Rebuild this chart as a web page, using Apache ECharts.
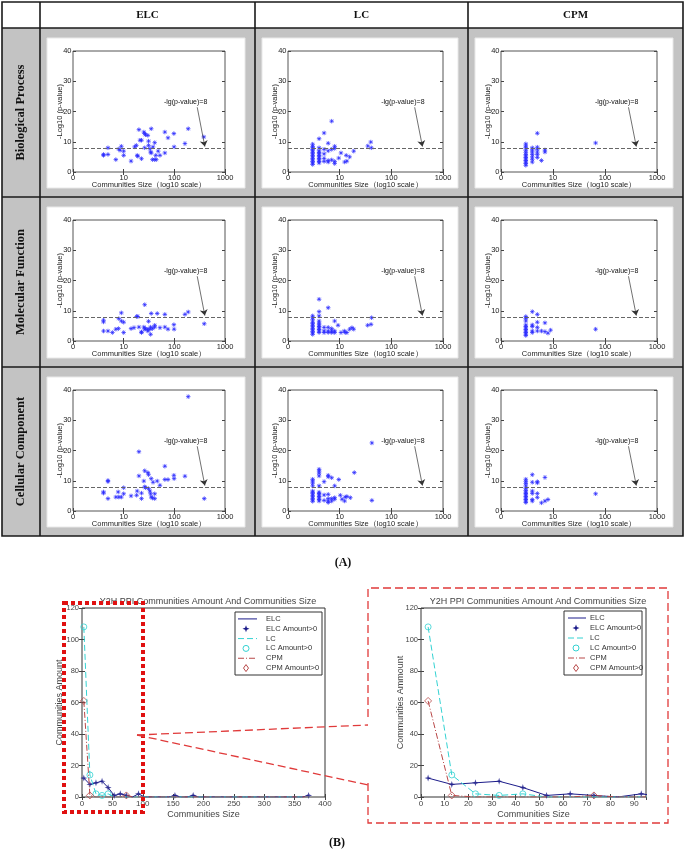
<!DOCTYPE html>
<html><head><meta charset="utf-8">
<script src="https://cdn.jsdelivr.net/npm/echarts@6/dist/echarts.min.js"></script>
<style>html,body{margin:0;padding:0;background:#fff}#c{width:686px;height:854px}</style>
</head><body><div id="c"></div><script>
// ---------- text ----------
const colHeaders = ['ELC', 'LC', 'CPM'];
const rowHeaders = ['Biological Process', 'Molecular Function', 'Cellular Component'];
const xTickLabels = {1: '0', 10: '10', 100: '100', 1000: '1000'};
const scatterXName = 'Communities Size（log10 scale）';
const scatterYName = '-Log10 (p-value)';
const threshold = 8;
const annotText = '-lg(p-value)=8';
const annotTextAt = [167, 23.2];
const annotArrowFrom = [283, 21.4];
const annotArrowTo = [400, 8.4];

// ---------- scatter panels: [community size, -log10(p)] ----------
const elcBP = [[4,5.8],[4,5.5],[4.9,8.0],[4.9,5.8],[7,4.1],[8,7.6],[8.5,7.2],[9,8.5],[10,6.9],[10,5.5],[14,3.6],[16.5,8.3],[17.8,8.8],[18.5,5.5],[19,5.2],[20,14],[21,10.5],[22.5,10.5],[22.5,4.4],[25,13.2],[26,12.7],[27,12.3],[26,8],[30,12.1],[31,10.2],[31,8.8],[33,7.7],[34,6.6],[35,6.3],[35,14.3],[37,4.1],[41,4.1],[44,4.1],[38,8.3],[41,9.7],[48,6.9],[43,5.5],[52,5.5],[65,13.2],[65,6.3],[75,11.3],[98,12.7],[99,8.3],[162,9.4],[188,14.3],[382,11.6]];
const lcBP = [[3,2.5],[3,3],[3,3.5],[3,4],[3,4.5],[3,5],[3,5.5],[3,6],[3,6.5],[3,7],[3,7.5],[3,8],[3,8.5],[3,9.2],[4,3],[4,3.5],[4,4],[4,4.5],[4,5],[4,5.5],[4,6],[4,6.5],[4,7],[4,8],[4,11],[5,3.5],[5,4.5],[5,6],[5,7.5],[5,12.9],[6,3.3],[6,3.8],[6,7],[6,9.5],[7,4],[7,7.5],[7,16.8],[8,2.8],[8,3.5],[8,7.8],[8,8.5],[9.6,4.6],[10.6,6.3],[12.5,3.3],[13.4,5.5],[13.8,3.6],[15.6,5],[18.7,6.9],[35,8.6],[40,9.9],[41,8]];
const cpmBP = [[3,2.2],[3,2.8],[3,3.3],[3,3.8],[3,4.3],[3,4.8],[3,5.3],[3,5.8],[3,6.5],[3,7.2],[3,8],[3,8.6],[3,9.3],[4,3.3],[4,4.2],[4,5],[4,5.8],[4,6.6],[4,7.3],[4,8],[5,4.8],[5,5.8],[5,6.6],[5,7.5],[5,8.2],[5,12.8],[6,3.8],[7,6.6],[7,7.3],[66,9.6]];
const elcMF = [[4,3.3],[4,6.3],[4,6.9],[4.9,3.3],[6,2.8],[7,3.9],[7.9,4.1],[8,7.4],[9,9.3],[9,6.6],[10,6.2],[10,2.8],[14,4.1],[16,4.4],[18,8.1],[19,8.1],[20,4.6],[22.5,3.0],[22.5,2.8],[25,4.6],[26,12],[26,3.9],[27,4.1],[30,3.3],[30,3.9],[31,6.5],[33,3.9],[34,2.2],[34,4.6],[35,9.1],[37,4.1],[41,4.6],[41,5.2],[46,9.1],[52,4.4],[65,4.6],[65,8.8],[75,3.9],[98,5.4],[99,3.9],[162,8.8],[188,9.6],[390,5.7]];
const lcMF = [[3,2.2],[3,2.7],[3,3.2],[3,3.7],[3,4.2],[3,4.7],[3,5.2],[3,5.7],[3,6.2],[3,7],[3,7.7],[3,8.3],[4,2.8],[4,3.3],[4,3.8],[4,4.3],[4,4.8],[4,5.3],[4,5.9],[4,6.6],[4,8.3],[4,9.7],[4,13.8],[5,2.8],[5,3.3],[5,4.5],[6,2.8],[6,3.3],[6,4.5],[6,11],[7,2.8],[7,3.3],[7,4.1],[8,2.8],[8,3.3],[8,6.6],[9.3,5.2],[10.6,2.8],[12.3,3.3],[12.8,2.8],[13.8,2.8],[15.6,3.9],[17.3,4.4],[18.7,3.9],[34.8,5.2],[40.5,5.5],[41.5,7.7]];
const cpmMF = [[3,1.8],[3,2.3],[3,2.8],[3,3.3],[3,3.8],[3,4.3],[3,4.8],[3,5.3],[3,6.6],[3,7.4],[3,8.1],[4,2.8],[4,3.3],[4,4.8],[4,5.3],[4,9.7],[5,3.3],[5,4.5],[5,6.2],[5,8.8],[6,3.3],[7,6],[7,3.1],[8,2.6],[9,3.6],[66,3.9]];
const elcCC = [[4,6.3],[4,5.9],[4.9,10.1],[4.9,9.7],[4.9,4.1],[7,4.6],[7.8,6.3],[8,4.6],[9,4.6],[10,7.7],[10,5.7],[14,5.0],[18,5.2],[18.5,6.6],[20,19.6],[20,11.6],[22.5,4.1],[22.5,5.9],[25,9.9],[26,13.3],[26,8],[27,7.7],[30,12.7],[31,12],[31,7.4],[33,6.6],[34,5.7],[35,4.6],[35,10.7],[37,4.3],[38,9.5],[41,5.7],[41,4.1],[46,9.9],[52,8.5],[65,14.8],[65,10.4],[75,10.4],[98,11.8],[99,10.7],[162,11.5],[188,37.8],[390,4.1]];
const lcCC = [[3,3.2],[3,3.7],[3,4.2],[3,4.7],[3,5.2],[3,5.7],[3,6.2],[3,6.6],[3,8.3],[3,9.2],[3,9.9],[3,10.5],[4,3.3],[4,3.8],[4,4.3],[4,4.8],[4,5.3],[4,5.8],[4,6.2],[4,8.3],[4,11.6],[4,12.5],[4,13.2],[4,13.8],[5,3.5],[5,5.3],[5,9.7],[6,2.8],[6,3.3],[6,4.1],[6,5.5],[6,11.3],[6,11.8],[7,3.3],[7,4.1],[7,11],[8,3.9],[8,4.4],[8,8.3],[9.6,10.4],[10.3,5.2],[11.1,3.9],[12.5,3.3],[12.8,4.6],[13.8,4.8],[16.1,4.4],[19.2,12.7],[42,22.5],[42,3.5]];
const cpmCC = [[3,2.8],[3,3.3],[3,3.8],[3,4.3],[3,4.8],[3,5.3],[3,5.8],[3,6.2],[3,6.8],[3,7.5],[3,8.3],[3,9.1],[3,9.8],[3,10.5],[4,3.3],[4,3.8],[4,5.8],[4,6.6],[4,9.5],[4,12],[5,4.5],[5,5.8],[5,9.3],[5,9.7],[6,2.7],[7,3.3],[7,11.1],[8,3.8],[66,5.7]];
const panels = [[elcBP, lcBP, cpmBP], [elcMF, lcMF, cpmMF], [elcCC, lcCC, cpmCC]];

// ---------- (B) community size histogram ----------
const bTitle = 'Y2H PPI Communities Amount And Communities Size';
const bXName = 'Communities Size';
const bYNameLeft = 'Communities Amount';
const bYNameRight = 'Communities Ammount';
const binCenters = [3,13,23,33,43,53,63,73,83,93,103,113,123,133,143,153,163,173,183,193,203,213,223,233,243,253,263,273,283,293,303,313,323,333,343,353,363,373];
const elcCounts = [12,8,9,10,6,1,2,1,0,2,0,0,0,0,0,1,0,0,1,0,0,0,0,0,0,0,0,0,0,0,0,0,0,0,0,0,0,1];
const lcCounts  = [108,14,2,1,2,0,0,0,0,0,0,0,0,0,0,0,0,0,0,0,0,0,0,0,0,0,0,0,0,0,0,0,0,0,0,0,0,0];
const cpmCounts = [61,1,0,0,0,0,0,1,0,0,0,0,0,0,0,0,0,0,0,0,0,0,0,0,0,0,0,0,0,0,0,0,0,0,0,0,0,0];
const legendNames = ['ELC', 'ELC Amount>0', 'LC', 'LC Amount>0', 'CPM', 'CPM Amount>0'];

// ---------- layout / style ----------
const FONT = 'Liberation Sans, Arial, sans-serif';
const SERIF = 'Liberation Serif, Times New Roman, serif';
const cellX = [40, 255, 468], cellR = [255, 468, 683];
const rowY = [28, 197, 367], rowB = [197, 367, 536];
const gridW = [152, 155, 156];
const C_ELC = '#1c1c8a', C_LC = '#33d2d2', C_CPM = '#b84848';
const DASH_LC = [6, 3], DASH_CPM = [6, 2, 1, 2];

const chart = echarts.init(document.getElementById('c'), null, {renderer: 'canvas'});
const grids = [], xAxes = [], yAxes = [], series = [], graphics = [];

const asterisk = 'path://M5,0L5,10M0,5L10,5M1.5,1.5L8.5,8.5M8.5,1.5L1.5,8.5';
const star4 = 'path://M5,0L6.2,3.8L10,5L6.2,6.2L5,10L3.8,6.2L0,5L3.8,3.8Z';

function boxAxes(gi, xOpt, yOpt) {
  const xi = xAxes.length, yi = yAxes.length;
  const tick = {inside: true, length: 3, lineStyle: {color: '#444'}};
  const common = {axisLine: {show: false}, axisTick: tick, splitLine: {show: false}, nameMoveOverlap: false};
  xAxes.push(Object.assign({gridIndex: gi, position: 'bottom'}, common, xOpt));
  xAxes.push(Object.assign({}, xOpt, common, {gridIndex: gi, position: 'top', name: '', axisLabel: {show: false}}));
  yAxes.push(Object.assign({gridIndex: gi, position: 'left'}, common, yOpt));
  yAxes.push(Object.assign({}, yOpt, common, {gridIndex: gi, position: 'right', name: '', axisLabel: {show: false}}));
  return [xi, yi];
}

// ---------- table background ----------
graphics.push({type: 'rect', z: -20, shape: {x: 2, y: 28, width: 681, height: 508}, style: {fill: '#c3c3c3'}});
for (let r = 0; r < 3; r++) for (let c = 0; c < 3; c++) {
  graphics.push({type: 'rect', z: -10, shape: {x: cellX[c] + 7, y: rowY[r] + 10, width: cellR[c] - cellX[c] - 17, height: rowB[r] - rowY[r] - 19},
    style: {fill: '#fff', stroke: '#e8e8e8', lineWidth: 1}});
}

// ---------- scatter panels ----------
for (let r = 0; r < 3; r++) for (let c = 0; c < 3; c++) {
  const gi = grids.length;
  grids.push({left: cellX[c] + 33, top: rowY[r] + 23, width: gridW[c], height: 121, show: true,
    borderColor: '#555', borderWidth: 1, backgroundColor: 'transparent'});
  const [xi, yi] = boxAxes(gi, {
    type: 'log', logBase: 10, min: 1, max: 1000,
    axisLabel: {fontSize: 7.5, color: '#222', fontFamily: FONT, margin: 1.5,
      formatter: v => xTickLabels[Math.round(v)] !== undefined ? xTickLabels[Math.round(v)] : ''},
    name: scatterXName, nameLocation: 'middle', nameGap: 9,
    nameTextStyle: {fontSize: 7.5, color: '#222', fontFamily: FONT}
  }, {
    type: 'value', min: 0, max: 40, interval: 10,
    axisLabel: {fontSize: 7.5, color: '#222', fontFamily: FONT, margin: 1.5},
    name: scatterYName, nameLocation: 'middle', nameGap: 9, nameRotate: 90,
    nameTextStyle: {fontSize: 7.5, color: '#222', fontFamily: FONT}
  });
  series.push({
    type: 'scatter', xAxisIndex: xi, yAxisIndex: yi, data: panels[r][c],
    symbol: asterisk, symbolSize: 4.5, silent: true,
    itemStyle: {color: '#2a2aff', borderColor: '#2a2aff', borderWidth: 0.9},
    markLine: {silent: true, animation: false, symbol: ['none', 'none'], label: {show: false},
      data: [
        {yAxis: threshold, lineStyle: {type: [4, 2], color: '#666', width: 1}},
        [{coord: annotArrowFrom, symbol: 'none', lineStyle: {type: 'solid', color: '#333', width: 0.7}},
         {coord: annotArrowTo, symbol: 'arrow', symbolSize: 6, lineStyle: {type: 'solid', color: '#333', width: 0.7}}]
      ]},
    markPoint: {silent: true, animation: false, symbol: 'rect', symbolSize: 1, itemStyle: {color: 'rgba(0,0,0,0)'},
      label: {show: true, position: 'inside', formatter: annotText, fontSize: 7, color: '#111', fontFamily: FONT},
      data: [{coord: annotTextAt}]}
  });
}

// ---------- (B) charts ----------
function histChart(gridOpt, xOpt, yName, yGap) {
  const gi = grids.length;
  grids.push(Object.assign({show: true, borderColor: '#333', borderWidth: 1, backgroundColor: 'transparent'}, gridOpt));
  const [xi, yi] = boxAxes(gi, Object.assign({
    type: 'value', axisLabel: {fontSize: 8, color: '#444', fontFamily: FONT, margin: 3},
    name: bXName, nameLocation: 'middle', nameGap: 13, nameTextStyle: {fontSize: 9, color: '#444', fontFamily: FONT}
  }, xOpt), {
    type: 'value', min: 0, max: 120, interval: 20,
    axisLabel: {fontSize: 7.5, color: '#444', fontFamily: FONT, margin: 3},
    name: yName, nameLocation: 'middle', nameGap: yGap, nameRotate: 90,
    nameTextStyle: {fontSize: 9, color: '#444', fontFamily: FONT}
  });
  const pairs = counts => binCenters.map((b, i) => [b, counts[i]]);
  const pos = counts => pairs(counts).filter(p => p[1] > 0);
  const base = {xAxisIndex: xi, yAxisIndex: yi, silent: true, animation: false};
  series.push(Object.assign({type: 'line', name: legendNames[0], data: pairs(elcCounts), symbol: 'none',
    lineStyle: {color: C_ELC, width: 1}, itemStyle: {color: C_ELC}}, base));
  series.push(Object.assign({type: 'scatter', name: legendNames[1], data: pos(elcCounts), symbol: star4, symbolSize: 7,
    itemStyle: {color: C_ELC}}, base));
  series.push(Object.assign({type: 'line', name: legendNames[2], data: pairs(lcCounts), symbol: 'none',
    lineStyle: {color: C_LC, width: 1, type: DASH_LC}, itemStyle: {color: C_LC}}, base));
  series.push(Object.assign({type: 'scatter', name: legendNames[3], data: pos(lcCounts), symbol: 'circle', symbolSize: 6,
    itemStyle: {color: 'rgba(255,255,255,0)', borderColor: C_LC, borderWidth: 1}}, base));
  series.push(Object.assign({type: 'line', name: legendNames[4], data: pairs(cpmCounts), symbol: 'none',
    lineStyle: {color: C_CPM, width: 1, type: DASH_CPM}, itemStyle: {color: C_CPM}}, base));
  series.push(Object.assign({type: 'scatter', name: legendNames[5], data: pos(cpmCounts), symbol: 'diamond', symbolSize: 7,
    itemStyle: {color: 'rgba(255,255,255,0)', borderColor: C_CPM, borderWidth: 1}}, base));
}
histChart({left: 82, top: 608, width: 243, height: 189}, {min: 0, max: 400, interval: 50}, bYNameLeft, 18);
histChart({left: 421, top: 608, width: 225, height: 189}, {min: 0, max: 95, interval: 10,
  axisLabel: {fontSize: 8, color: '#444', fontFamily: FONT, margin: 3, showMaxLabel: false}}, bYNameRight, 16);

// legend boxes (MATLAB style) drawn as graphics
function legendBox(L) {
  graphics.push({type: 'rect', z: 70, shape: {x: L.x, y: L.y, width: L.w, height: L.h},
    style: {fill: '#fff', stroke: '#333', lineWidth: 1}});
  const rowH = (L.h - 4) / 6;
  legendNames.forEach((name, i) => {
    const cy = L.y + 2 + rowH * (i + 0.5);
    const mx = L.x + L.mark;
    if (i === 0 || i === 2 || i === 4) {
      const col = [C_ELC, C_LC, C_CPM][i / 2];
      const dash = [null, DASH_LC, DASH_CPM][i / 2];
      graphics.push({type: 'line', z: 71, shape: {x1: L.x + L.l0, y1: cy, x2: L.x + L.l1, y2: cy},
        style: {stroke: col, lineWidth: 1, lineDash: dash}});
    } else if (i === 1) {
      const s = 3.5, t = 0.9;
      graphics.push({type: 'polygon', z: 71, shape: {points: [[mx, cy - s], [mx + t, cy - t], [mx + s, cy], [mx + t, cy + t], [mx, cy + s], [mx - t, cy + t], [mx - s, cy], [mx - t, cy - t]]},
        style: {fill: C_ELC}});
    } else if (i === 3) {
      graphics.push({type: 'circle', z: 71, shape: {cx: mx, cy: cy, r: 3}, style: {fill: null, stroke: C_LC, lineWidth: 1}});
    } else {
      graphics.push({type: 'polygon', z: 71, shape: {points: [[mx, cy - 3.5], [mx + 2.5, cy], [mx, cy + 3.5], [mx - 2.5, cy]]},
        style: {fill: null, stroke: C_CPM, lineWidth: 1}});
    }
    graphics.push({type: 'text', z: 71, x: L.x + L.tx, y: cy,
      style: {text: name, fill: '#333', font: '7.5px ' + FONT, textAlign: 'left', textVerticalAlign: 'middle'}});
  });
}
legendBox({x: 235, y: 612, w: 87, h: 63, l0: 3, l1: 22, mark: 11, tx: 31});
legendBox({x: 564, y: 611, w: 78, h: 64, l0: 4, l1: 22, mark: 12, tx: 26});

const titles = [
  {text: bTitle, left: 203, top: 592, textAlign: 'center', textStyle: {fontSize: 9, fontWeight: 'normal', color: '#444', fontFamily: FONT}},
  {text: bTitle, left: 533, top: 592, textAlign: 'center', textStyle: {fontSize: 9, fontWeight: 'normal', color: '#444', fontFamily: FONT}}
];

// ---------- table lines & headers ----------
const lineStyle = {stroke: '#1a1a1a', lineWidth: 1.6};
graphics.push({type: 'rect', z: 50, shape: {x: 2, y: 2, width: 681, height: 534}, style: Object.assign({fill: null}, lineStyle)});
[40, 255, 468].forEach(x => graphics.push({type: 'line', z: 50, shape: {x1: x, y1: 2, x2: x, y2: 536}, style: lineStyle}));
[28, 197, 367].forEach(y => graphics.push({type: 'line', z: 50, shape: {x1: 2, y1: y, x2: 683, y2: y}, style: lineStyle}));
colHeaders.forEach((t, c) => graphics.push({type: 'text', z: 50, x: (cellX[c] + cellR[c]) / 2, y: 15,
  style: {text: t, fill: '#111', font: 'bold 11px ' + SERIF, textAlign: 'center', textVerticalAlign: 'middle'}}));
rowHeaders.forEach((t, r) => graphics.push({type: 'text', z: 50, x: 21, y: (rowY[r] + rowB[r]) / 2, rotation: Math.PI / 2,
  style: {text: t, fill: '#111', font: 'bold 12.5px ' + SERIF, textAlign: 'center', textVerticalAlign: 'middle'}}));
graphics.push({type: 'text', z: 50, x: 343, y: 563, style: {text: '(A)', fill: '#111', font: 'bold 12px ' + SERIF, textAlign: 'center', textVerticalAlign: 'middle'}});
graphics.push({type: 'text', z: 50, x: 337, y: 843, style: {text: '(B)', fill: '#111', font: 'bold 12px ' + SERIF, textAlign: 'center', textVerticalAlign: 'middle'}});

// ---------- zoom callout ----------
graphics.push({type: 'rect', z: 60, shape: {x: 64, y: 603, width: 79, height: 209},
  style: {fill: null, stroke: '#e01010', lineWidth: 4, lineDash: [4, 3]}});
graphics.push({type: 'polyline', z: 60, shape: {points: [[368, 717], [368, 588], [668, 588], [668, 823], [368, 823], [368, 783]]},
  style: {fill: null, stroke: '#e03a3a', lineWidth: 1.3, lineDash: [8, 4]}});
graphics.push({type: 'line', z: 60, shape: {x1: 137, y1: 735, x2: 368, y2: 725}, style: {stroke: '#e03a3a', lineWidth: 1.3, lineDash: [8, 4]}});
graphics.push({type: 'line', z: 60, shape: {x1: 137, y1: 735, x2: 368, y2: 785}, style: {stroke: '#e03a3a', lineWidth: 1.3, lineDash: [8, 4]}});

chart.setOption({
  animation: false,
  backgroundColor: '#fff',
  title: titles,
  grid: grids,
  xAxis: xAxes,
  yAxis: yAxes,
  series: series,
  graphic: {elements: graphics}
});
</script></body></html>
